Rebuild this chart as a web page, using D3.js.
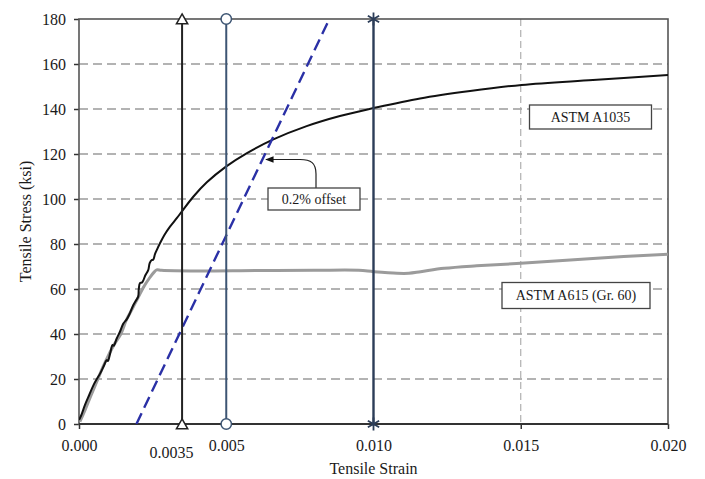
<!DOCTYPE html>
<html>
<head>
<meta charset="utf-8">
<script src="https://cdn.jsdelivr.net/npm/d3@7"></script>
<style>
  html, body { margin: 0; padding: 0; background: #fff; }
  svg { display: block; font-family: "Liberation Serif", "Times New Roman", serif; }
</style>
</head>
<body>
<svg id="chart" width="705" height="479"></svg>
<script>
// Tensile stress-strain curves (strain in in./in., stress in ksi)
const a1035Strain = [0, 0.00008, 0.0002, 0.00035, 0.0005, 0.0006, 0.00072, 0.00085, 0.00094, 0.00098,
  0.00106, 0.00114, 0.00118, 0.00128, 0.00139, 0.0015, 0.00162, 0.00173, 0.00185, 0.00194,
  0.00201, 0.00203, 0.00207, 0.00215, 0.00225, 0.00235, 0.0024, 0.00247, 0.00252, 0.00258,
  0.00264, 0.00275, 0.0029, 0.00309, 0.00332, 0.00349, 0.00388, 0.00434, 0.00499, 0.00569,
  0.0066, 0.00773, 0.00886, 0.00997, 0.01158, 0.01328, 0.01503, 0.01745, 0.02];
const a1035Stress = [1.8, 4, 8.4, 13, 17.5, 19.9, 22.5, 26, 28.4, 28.0,
  31.5, 35.1, 34.8, 38, 41, 44.5, 46.5, 49.3, 53, 55,
  56.6, 60, 62.6, 63, 66, 68.4, 71.5, 72.9, 73, 75.5,
  77.3, 80.3, 84, 87.7, 91.5, 94.4, 101, 107.4, 114.4, 120.3,
  126.5, 132.4, 136.9, 140.3, 144.7, 148, 150.7, 152.9, 155.1];

const a615Strain = [0.00003, 0.0002, 0.0004, 0.00061, 0.0008, 0.001, 0.0012, 0.00142, 0.0016, 0.0018,
  0.002, 0.0022, 0.0024, 0.00255, 0.00264, 0.0028, 0.004, 0.006, 0.008, 0.0095,
  0.0100, 0.0108, 0.0112, 0.0116, 0.0124, 0.0135, 0.015, 0.01745, 0.02];
const a615Stress = [1, 6, 12.5, 19, 25, 30.5, 35.5, 40, 46, 51,
  56, 61, 65, 67.5, 68.5, 68.3, 68.0, 68.2, 68.3, 68.3,
  67.7, 67.0, 67.0, 67.7, 69.2, 70.3, 71.4, 73.6, 75.5];

// 0.2% offset line
const offsetStrain = [0.00195, 0.0085];
const offsetStress = [0, 180];

// Reference strain levels
const refStrains = [0.0035, 0.005, 0.010];
const refSymbols = ["triangle", "circle", "asterisk"];

const xTicks = [0, 0.0035, 0.005, 0.010, 0.015, 0.020];
const xTickLabels = ["0.000", "0.0035", "0.005", "0.010", "0.015", "0.020"];
const yTicks = [0, 20, 40, 60, 80, 100, 120, 140, 160, 180];
const gridStress = [20, 40, 60, 80, 100, 120, 140, 160];
const gridStrain = [0.015];

const svg = d3.select("#chart");
const pLeft = 79, pRight = 668, pTop = 19, pBottom = 424;
const x = d3.scaleLinear().domain([0, 0.02]).range([pLeft, pRight]);
const y = d3.scaleLinear().domain([0, 180]).range([pBottom, pTop]);

const defs = svg.append("defs");
defs.append("clipPath").attr("id", "plotClip")
  .append("rect").attr("x", pLeft).attr("y", pTop - 2)
  .attr("width", pRight - pLeft).attr("height", pBottom - pTop + 2);

// Gridlines
svg.append("g").selectAll("line").data(gridStress).join("line")
  .attr("x1", pLeft).attr("x2", pRight)
  .attr("y1", d => y(d)).attr("y2", d => y(d))
  .attr("stroke", "#9a9a9a").attr("stroke-width", 1.6)
  .attr("stroke-dasharray", "9,5");
svg.append("g").selectAll("line").data(gridStrain).join("line")
  .attr("x1", d => x(d)).attr("x2", d => x(d))
  .attr("y1", pTop).attr("y2", pBottom)
  .attr("stroke", "#a8a8a8").attr("stroke-width", 1.1)
  .attr("stroke-dasharray", "7,4");

// Axes
const yAxis = svg.append("g").attr("transform", `translate(${pLeft},0)`)
  .call(d3.axisLeft(y).tickValues(yTicks).tickSize(5).tickPadding(8).tickFormat(d3.format("d")));
const xAxis = svg.append("g").attr("transform", `translate(0,${pBottom})`)
  .call(d3.axisBottom(x).tickValues(xTicks).tickSize(5).tickPadding(11)
    .tickFormat((d, i) => xTickLabels[i]));
[yAxis, xAxis].forEach(g => {
  g.select(".domain").remove();
  g.selectAll(".tick line").attr("stroke", "#333").attr("stroke-width", 1.5);
  g.selectAll(".tick text").attr("fill", "#1a1a1a").attr("font-size", 16)
    .attr("font-family", "Liberation Serif, Times New Roman, serif");
});
xAxis.selectAll(".tick text").filter(d => d === 0.0035)
  .attr("dy", "1.1em").attr("dx", "-0.7em");
xAxis.selectAll(".tick").filter(d => refStrains.includes(d)).select("line").remove();

// Plot frame
svg.append("rect").attr("x", pLeft).attr("y", pTop)
  .attr("width", pRight - pLeft).attr("height", pBottom - pTop)
  .attr("fill", "none").attr("stroke", "#555").attr("stroke-width", 1.6);
svg.append("line").attr("x1", pLeft).attr("x2", pRight).attr("y1", pBottom).attr("y2", pBottom)
  .attr("stroke", "#333").attr("stroke-width", 1.8);

// Curves
const line = d3.line().x(d => x(d[0])).y(d => y(d[1])).curve(d3.curveCatmullRom.alpha(0.5));
const plot = svg.append("g").attr("clip-path", "url(#plotClip)");
plot.append("path").datum(d3.zip(a615Strain, a615Stress))
  .attr("d", line).attr("fill", "none")
  .attr("stroke", "#9b9b9b").attr("stroke-width", 3).attr("stroke-linejoin", "round");
plot.append("path").datum(d3.zip(a1035Strain, a1035Stress))
  .attr("d", line).attr("fill", "none")
  .attr("stroke", "#111").attr("stroke-width", 2).attr("stroke-linejoin", "round");
plot.append("path").datum(d3.zip(offsetStrain, offsetStress))
  .attr("d", d3.line().x(d => x(d[0])).y(d => y(d[1]))).attr("fill", "none")
  .attr("stroke", "#2a30a6").attr("stroke-width", 2.4).attr("stroke-dasharray", "12,6");

// Reference strain lines with end markers
const refColors = ["#222", "#3d5573", "#2c3d58"];
const refWidths = [2, 2, 2.4];
const symbolTypes = { triangle: d3.symbolTriangle, circle: d3.symbolCircle, asterisk: d3.symbolAsterisk };
const symbolSizes = { triangle: 55, circle: 85, asterisk: 120 };
refStrains.forEach((s, i) => {
  svg.append("line").attr("x1", x(s)).attr("x2", x(s)).attr("y1", pTop).attr("y2", pBottom)
    .attr("stroke", refColors[i]).attr("stroke-width", refWidths[i]);
  [pTop, pBottom].forEach(py => {
    const offset = refSymbols[i] === "triangle" ? 1.5 : 0;
    svg.append("path")
      .attr("d", d3.symbol().type(symbolTypes[refSymbols[i]]).size(symbolSizes[refSymbols[i]])())
      .attr("transform", `translate(${x(s)},${py + offset})`)
      .attr("fill", refSymbols[i] === "asterisk" ? "none" : "#fff")
      .attr("stroke", refColors[i]).attr("stroke-width", refSymbols[i] === "asterisk" ? 1.8 : 1.5);
  });
});

// Annotations
function labelBox(cx, cy, w, h, text) {
  svg.append("rect").attr("x", cx - w / 2).attr("y", cy - h / 2).attr("width", w).attr("height", h)
    .attr("fill", "#fff").attr("stroke", "#444").attr("stroke-width", 1.3);
  svg.append("text").attr("x", cx).attr("y", cy).attr("dy", "0.35em")
    .attr("text-anchor", "middle").attr("font-size", 14).attr("fill", "#1a1a1a").text(text);
}
defs.append("marker").attr("id", "arrowHead")
  .attr("viewBox", "0 0 10 10").attr("refX", 9).attr("refY", 5)
  .attr("markerWidth", 7).attr("markerHeight", 7).attr("orient", "auto-start-reverse")
  .append("path").attr("d", "M0,1 L10,5 L0,9 Z").attr("fill", "#111");
svg.append("path")
  .attr("d", "M316,188 V174 C316,163 311,159.5 300,159.5 H266")
  .attr("fill", "none").attr("stroke", "#222").attr("stroke-width", 1.2)
  .attr("marker-end", "url(#arrowHead)");
labelBox(314, 199, 92, 22, "0.2% offset");
labelBox(590.5, 117, 122, 24, "ASTM A1035");
labelBox(576, 295.5, 148, 26, "ASTM A615 (Gr. 60)");

// Axis titles
svg.append("text").attr("x", (pLeft + pRight) / 2).attr("y", 474)
  .attr("text-anchor", "middle").attr("font-size", 16).attr("fill", "#1a1a1a").text("Tensile Strain");
svg.append("text").attr("transform", `translate(31,${(pTop + pBottom) / 2})rotate(-90)`)
  .attr("text-anchor", "middle").attr("font-size", 16).attr("fill", "#1a1a1a").text("Tensile Stress (ksi)");
</script>
</body>
</html>
